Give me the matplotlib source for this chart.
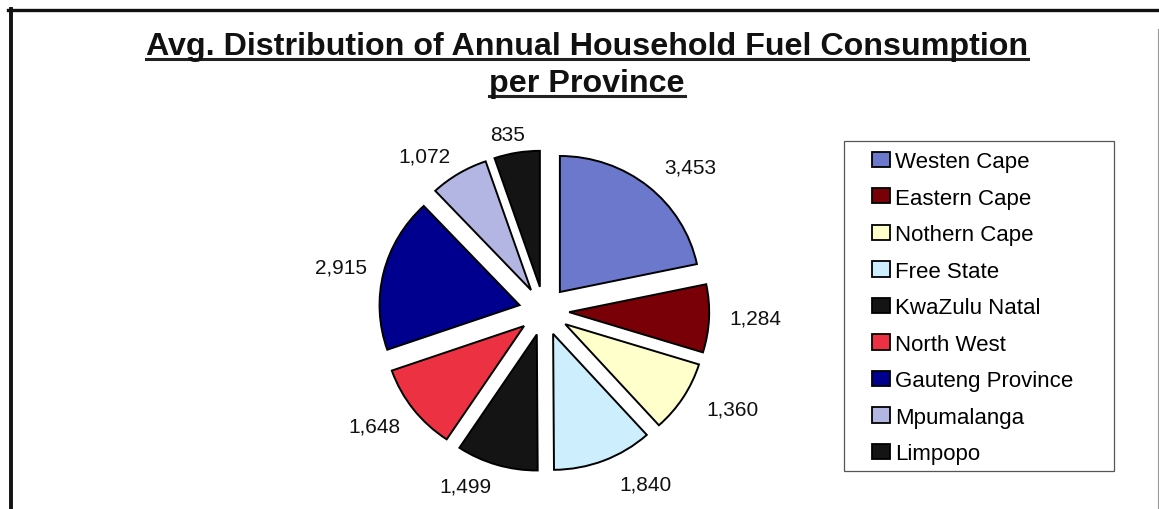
import matplotlib.pyplot as plt
import numpy as np
from matplotlib.lines import Line2D
from matplotlib.patches import Patch, Rectangle

provinces = ["Westen Cape", "Eastern Cape", "Nothern Cape", "Free State",
             "KwaZulu Natal", "North West", "Gauteng Province", "Mpumalanga",
             "Limpopo"]
consumption = [3453, 1284, 1360, 1840, 1499, 1648, 2915, 1072, 835]
slice_colors = ["#6b78cc", "#7a0008", "#ffffcc", "#cdeefc", "#141414",
                "#ec3242", "#00008e", "#b3b5e3", "#141414"]

plt.rcParams['font.family'] = ['Liberation Sans', 'DejaVu Sans']

W, H = 1159, 510
fig = plt.figure(figsize=(W / 100, H / 100), dpi=100)

# pie axes, laid out in pixels
cx, cy = 544, 312
rx, ry = 140, 136
span = 1.7
ax = fig.add_axes([(cx - span * rx) / W, (H - cy - span * ry) / H,
                   2 * span * rx / W, 2 * span * ry / H])
wedges, _ = ax.pie(consumption, colors=slice_colors, startangle=90,
                   counterclock=False, explode=[0.18] * len(consumption),
                   wedgeprops=dict(edgecolor='black', linewidth=1.4))
ax.set_aspect('auto')
ax.set_xlim(-span, span)
ax.set_ylim(-span, span)

# value labels: turn (clockwise deg) and distance from the pie centre
label_turn = [5.1, -1.2, -4.8, -8.7, 7.1, 3.2, -0.8, -5.5, -1.6]
label_dist = [1.50, 1.51, 1.52, 1.45, 1.39, 1.47, 1.49, 1.44, 1.34]
for w, v, t, d in zip(wedges, consumption, label_turn, label_dist):
    a = np.radians((w.theta1 + w.theta2) / 2 - t)
    ax.text(d * np.cos(a), d * np.sin(a), f"{v:,}", ha='center',
            va='center_baseline', fontsize=15, color='#111111')

# legend in its own box
fig.add_artist(Rectangle((844 / W, 1 - 472 / H), 270 / W, 330 / H,
                         transform=fig.transFigure, facecolor='white',
                         edgecolor='#555555', linewidth=0.9))
handles = [Patch(facecolor=c, edgecolor='black', linewidth=1.3)
           for c in slice_colors]
fig.legend(handles, provinces, loc='upper left',
           bbox_to_anchor=(872 / W, 1 - 152 / H), frameon=False,
           fontsize=16, handlelength=0.8, handleheight=0.68,
           handletextpad=0.22, labelspacing=0.70, borderpad=0,
           borderaxespad=0)

# underlined two-line title
title_lines = ["Avg. Distribution of Annual Household Fuel Consumption",
               "per Province"]
baselines = [55, 92]
fig.canvas.draw()
renderer = fig.canvas.get_renderer()
for line, yb in zip(title_lines, baselines):
    t = fig.text(587 / W, 1 - yb / H, line, ha='center', va='baseline',
                 fontsize=23.2, fontweight='bold', color='#111111')
    bb = t.get_window_extent(renderer)
    yu = 1 - (yb + 5) / H
    fig.add_artist(Line2D([bb.x0 / W, bb.x1 / W], [yu, yu],
                          transform=fig.transFigure, color='#222222', lw=2.2))

# outer frame
fig.add_artist(Line2D([8 / W, 1], [1 - 11 / H, 1 - 11 / H],
                      transform=fig.transFigure, color='#111111', lw=2.4))
fig.add_artist(Line2D([10.5 / W, 10.5 / W], [0, 1 - 10 / H],
                      transform=fig.transFigure, color='#111111', lw=2.8))
fig.add_artist(Line2D([1157.5 / W, 1157.5 / W], [0, 1 - 30 / H],
                      transform=fig.transFigure, color='#999999', lw=0.8))

fig.savefig("out.png", dpi=100)
